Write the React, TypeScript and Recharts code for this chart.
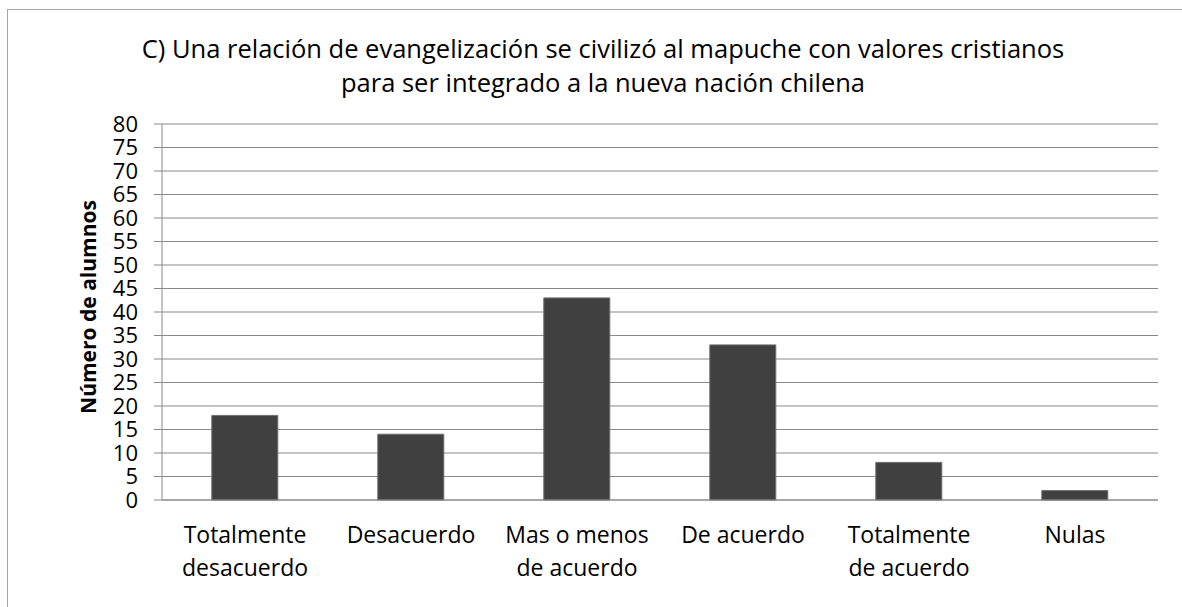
import React from "react";
import { BarChart, Bar, CartesianGrid, XAxis, YAxis } from "recharts";

const categories = [
  "Totalmente desacuerdo",
  "Desacuerdo",
  "Mas o menos de acuerdo",
  "De acuerdo",
  "Totalmente de acuerdo",
  "Nulas",
];
const tickLines = [
  ["Totalmente", "desacuerdo"],
  ["Desacuerdo"],
  ["Mas o menos", "de acuerdo"],
  ["De acuerdo"],
  ["Totalmente", "de acuerdo"],
  ["Nulas"],
];
const values = [18, 14, 43, 33, 8, 2];
const yTicks = [0, 5, 10, 15, 20, 25, 30, 35, 40, 45, 50, 55, 60, 65, 70, 75, 80];
const titleLines = [
  "C) Una relación de evangelización se civilizó al mapuche con valores cristianos",
  "para ser integrado a la nueva nación chilena",
];
const yLabel = "Número de alumnos";

const data = categories.map((name, i) => ({ name, value: values[i] }));

const FONT = "'Open Sans', sans-serif";

const CategoryTick = (props: any) => {
  const { x, y, index } = props;
  const lines = tickLines[index] || [];
  return (
    <g transform={`translate(${x},${y})`}>
      {lines.map((t, i) => (
        <text
          key={i}
          x={0}
          y={35 + i * 33}
          textAnchor="middle"
          fontSize={23}
          fontFamily={FONT}
          fill="#000"
        >
          {t}
        </text>
      ))}
    </g>
  );
};

export default function App() {
  return (
    <div
      style={{
        position: "absolute",
        left: 0,
        top: 0,
        width: 1182,
        height: 607,
        background: "#fff",
        overflow: "hidden",
      }}
    >
      <div
        style={{
          position: "absolute",
          left: 7,
          top: 9,
          width: 1200,
          height: 620,
          border: "1px solid #a6a6a6",
        }}
      />
      <div style={{ position: "absolute", left: 0, top: 0 }}>
        <BarChart
          width={1182}
          height={607}
          data={data}
          margin={{ top: 124, right: 24, bottom: 27, left: 102 }}
          barCategoryGap="30%"
        >
          <CartesianGrid vertical={false} stroke="#898989" strokeWidth={1} />
          <XAxis
            dataKey="name"
            interval={0}
            height={80}
            axisLine={{ stroke: "#898989" }}
            tickLine={false}
            tick={<CategoryTick />}
          />
          <YAxis
            width={60}
            domain={[0, 80]}
            ticks={yTicks}
            interval={0}
            tickSize={8}
            tickMargin={16}
            axisLine={{ stroke: "#898989" }}
            tickLine={{ stroke: "#898989" }}
            tick={{ fontSize: 22, fill: "#000", fontFamily: FONT }}
          />
          <Bar
            dataKey="value"
            fill="#404040"
            stroke="#6e6e6e"
            strokeWidth={1}
            isAnimationActive={false}
          />
        </BarChart>
      </div>
      <svg
        width={1182}
        height={607}
        style={{ position: "absolute", left: 0, top: 0, pointerEvents: "none" }}
      >
        {titleLines.map((t, i) => (
          <text
            key={i}
            x={603}
            y={58 + i * 34}
            textAnchor="middle"
            fontSize={25.5}
            fontFamily={FONT}
            fill="#000"
          >
            {t}
          </text>
        ))}
        <text
          transform="translate(96,307) rotate(-90)"
          textAnchor="middle"
          fontSize={21}
          fontWeight="bold"
          fontFamily={FONT}
          fill="#000"
        >
          {yLabel}
        </text>
      </svg>
    </div>
  );
}
